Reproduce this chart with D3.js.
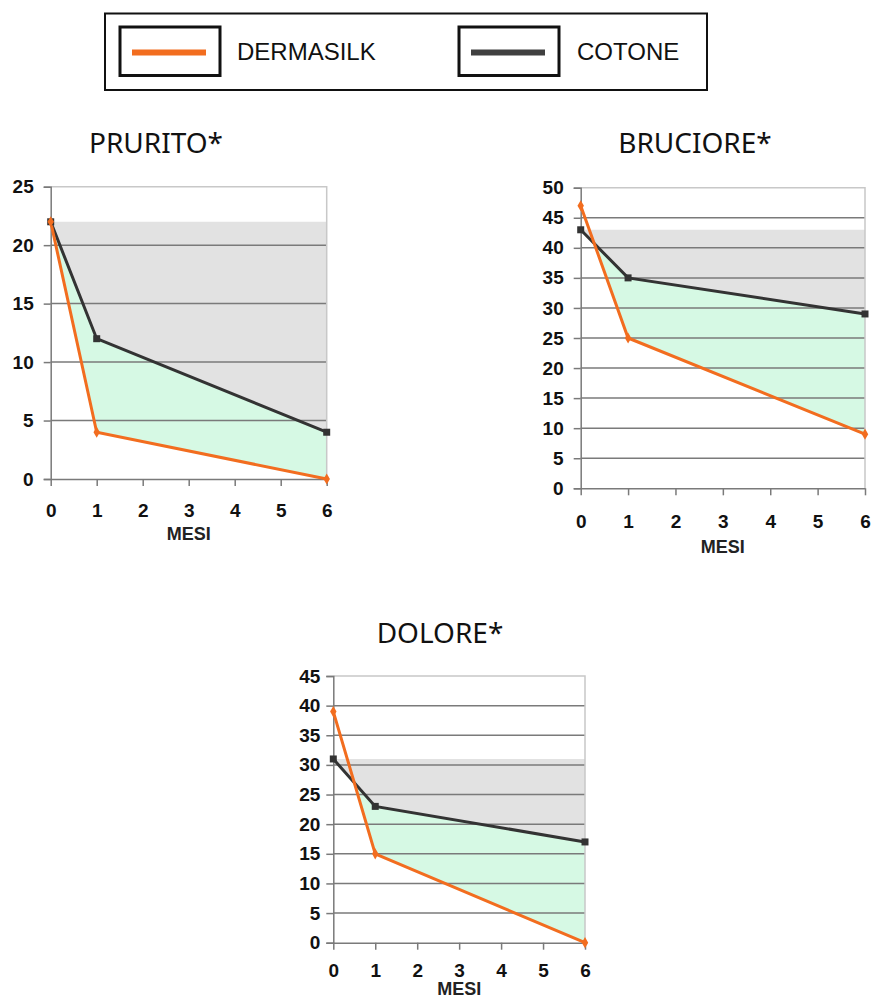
<!DOCTYPE html>
<html>
<head>
<meta charset="utf-8">
<script src="https://cdn.jsdelivr.net/npm/d3@7"></script>
<style>
  html, body { margin: 0; padding: 0; background: #ffffff; }
  svg { display: block; }
</style>
</head>
<body>
<svg id="chart" width="872" height="1000"></svg>
<script>
// ---------- DATA ----------
const months = [0, 1, 6];
const xTickValues = [0, 1, 2, 3, 4, 5, 6];
const legendLabels = ["DERMASILK", "COTONE"];
const chartTitles = ["PRURITO*", "BRUCIORE*", "DOLORE*"];
const xAxisTitle = "MESI";
const yMaxValues = [25, 50, 45];
const dermasilkPrurito = [22, 4, 0];
const cotonePrurito = [22, 12, 4];
const dermasilkBruciore = [47, 25, 9];
const cotoneBruciore = [43, 35, 29];
const dermasilkDolore = [39, 15, 0];
const cotoneDolore = [31, 23, 17];

// ---------- STYLE / LAYOUT ----------
const ORANGE = "#f26d1f";
const DARK = "#333333";
const GRAY_FILL = "#e2e2e2";
const GREEN_FILL = "#d6f9e4";
const GRID = "#7a7a7a";
const BORDER = "#c8c8c8";

const layouts = [
  { left: 50.7, right: 326.7, bottom: 479, top: 186.7, titleX: 156, titleY: 153, xlabY: 517, mesiY: 540, ylabGap: 17 },
  { left: 580.7, right: 865, bottom: 488.3, top: 187.7, titleX: 695, titleY: 153, xlabY: 528, mesiY: 553, ylabGap: 17 },
  { left: 333.3, right: 585, bottom: 942.7, top: 676, titleX: 440, titleY: 643, xlabY: 977, mesiY: 995, ylabGap: 13 }
];

const seriesSets = [
  { d: dermasilkPrurito, c: cotonePrurito },
  { d: dermasilkBruciore, c: cotoneBruciore },
  { d: dermasilkDolore, c: cotoneDolore }
];

const svg = d3.select("#chart");

// ---------- LEGEND ----------
const legend = svg.append("g");
legend.append("rect").attr("x", 105).attr("y", 13.5).attr("width", 602).attr("height", 76.5)
  .attr("fill", "#fff").attr("stroke", "#111").attr("stroke-width", 2);
const legendItems = [
  { label: legendLabels[0], color: ORANGE, bx: 120, tx: 237 },
  { label: legendLabels[1], color: "#404040", bx: 459, tx: 577 }
];
legendItems.forEach(it => {
  legend.append("rect").attr("x", it.bx).attr("y", 27).attr("width", 100).attr("height", 48.5)
    .attr("fill", "#fff").attr("stroke", "#111").attr("stroke-width", 3);
  legend.append("line").attr("x1", it.bx + 12).attr("x2", it.bx + 86)
    .attr("y1", 52.5).attr("y2", 52.5).attr("stroke", it.color).attr("stroke-width", 6);
  legend.append("text").attr("x", it.tx).attr("y", 60)
    .attr("font-family", "Liberation Sans, Arial, sans-serif").attr("font-size", 24)
    .attr("fill", "#111").text(it.label);
});

// ---------- CHARTS ----------
layouts.forEach((L, i) => {
  const g = svg.append("g");
  const dVals = seriesSets[i].d;
  const cVals = seriesSets[i].c;
  const yMax = yMaxValues[i];

  const x = d3.scaleLinear().domain([0, 6]).range([L.left, L.right]);
  const y = d3.scaleLinear().domain([0, yMax]).range([L.bottom, L.top]);

  const pts = months.map((m, k) => ({ m, d: dVals[k], c: cVals[k] }));
  const cTop = cVals[0];

  // title
  g.append("text").attr("x", L.titleX).attr("y", L.titleY).attr("text-anchor", "middle")
    .attr("font-family", "Noto Sans, Open Sans, sans-serif").attr("font-size", 28)
    .attr("fill", "#111").text(chartTitles[i]);

  // gray band: from first cotone value down to the cotone line
  g.append("path").datum(pts)
    .attr("d", d3.area().x(p => x(p.m)).y0(y(cTop)).y1(p => y(p.c)))
    .attr("fill", GRAY_FILL);

  // green: between dermasilk and cotone where cotone is higher
  const clipId = "clipBelowC" + i;
  g.append("clipPath").attr("id", clipId).append("path").datum(pts)
    .attr("d", d3.area().x(p => x(p.m)).y0(y(0)).y1(p => y(p.c)));
  g.append("path").datum(pts)
    .attr("clip-path", `url(#${clipId})`)
    .attr("d", d3.area().x(p => x(p.m)).y0(p => y(p.d)).y1(p => y(p.c)))
    .attr("fill", GREEN_FILL);

  // gridlines
  const yTicks = d3.range(0, yMax + 1, 5);
  g.append("g").selectAll("line").data(yTicks.filter(t => t > 0 && t < yMax)).join("line")
    .attr("x1", L.left).attr("x2", L.right)
    .attr("y1", d => y(d)).attr("y2", d => y(d))
    .attr("stroke", GRID).attr("stroke-width", 1.5);

  // plot border (top & right)
  g.append("path")
    .attr("d", `M${L.left},${y(yMax)}H${L.right}V${y(0)}`)
    .attr("fill", "none").attr("stroke", BORDER).attr("stroke-width", 1.5);

  // y axis
  const yAxis = d3.axisLeft(y).tickValues(yTicks).tickSize(7).tickPadding(L.ylabGap - 7).tickFormat(d3.format("d"));
  const ya = g.append("g").attr("transform", `translate(${L.left},0)`).call(yAxis);
  ya.select(".domain").attr("stroke", GRID).attr("stroke-width", 1.5);
  ya.selectAll(".tick line").attr("stroke", GRID).attr("stroke-width", 1.5);
  ya.selectAll("text").attr("font-family", "Liberation Sans, Arial, sans-serif")
    .attr("font-size", 19).attr("font-weight", "bold").attr("fill", "#111");

  // x axis
  const xAxis = d3.axisBottom(x).tickValues(xTickValues).tickSize(7).tickSizeOuter(0).tickFormat(d3.format("d"));
  const xa = g.append("g").attr("transform", `translate(0,${L.bottom})`).call(xAxis);
  xa.select(".domain").attr("stroke", GRID).attr("stroke-width", 1.5);
  xa.selectAll(".tick line").attr("stroke", GRID).attr("stroke-width", 1.5);
  xa.selectAll("text").attr("y", L.xlabY - L.bottom).attr("dy", 0)
    .attr("font-family", "Liberation Sans, Arial, sans-serif")
    .attr("font-size", 19).attr("font-weight", "bold").attr("fill", "#111");

  g.append("text").attr("x", (L.left + L.right) / 2).attr("y", L.mesiY).attr("text-anchor", "middle")
    .attr("font-family", "Liberation Sans, Arial, sans-serif").attr("font-size", 18)
    .attr("font-weight", "bold").attr("fill", "#222").text(xAxisTitle);

  // lines
  g.append("path").datum(pts).attr("fill", "none").attr("stroke", DARK).attr("stroke-width", 3)
    .attr("d", d3.line().x(p => x(p.m)).y(p => y(p.c)));
  g.append("path").datum(pts).attr("fill", "none").attr("stroke", ORANGE).attr("stroke-width", 3)
    .attr("d", d3.line().x(p => x(p.m)).y(p => y(p.d)));

  // markers
  g.append("g").selectAll("rect").data(pts).join("rect")
    .attr("x", p => x(p.m) - 3.5).attr("y", p => y(p.c) - 3.5)
    .attr("width", 7).attr("height", 7).attr("fill", DARK);
  g.append("g").selectAll("path").data(pts).join("path")
    .attr("transform", p => `translate(${x(p.m)},${y(p.d)})`)
    .attr("d", d3.symbol().type(d3.symbolDiamond).size(36))
    .attr("fill", ORANGE);
});
</script>
</body>
</html>
